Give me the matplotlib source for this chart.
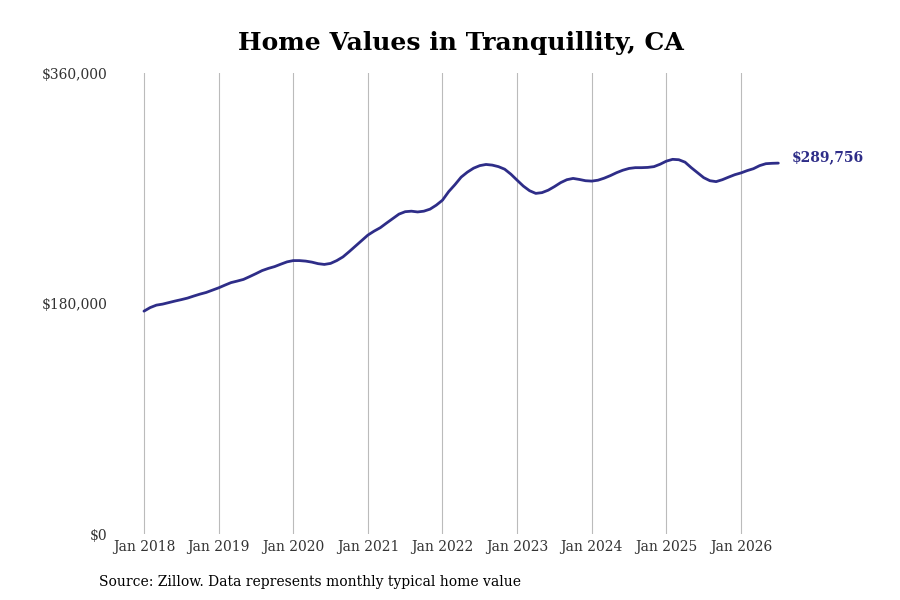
import matplotlib
matplotlib.use("Agg")
import matplotlib.pyplot as plt
import matplotlib.ticker as ticker
import numpy as np

# monthly typical home value, Jan 2018 .. Jul 2026
start_year = 2018
values = [
    174100, 176900, 178800, 179600, 180800, 182000, 183100, 184300, 185900, 187400, 188700, 190500,
    192300, 194400, 196400, 197600, 198900, 201100, 203400, 205800, 207500, 208900, 210800, 212600,
    213600, 213600, 213200, 212400, 211200, 210600, 211400, 213600, 216500, 220600, 224900, 229200,
    233500, 236600, 239300, 242900, 246400, 249900, 251800, 252200, 251600, 252200, 253800, 256900,
    260800, 267500, 272900, 278800, 282700, 285800, 287800, 288700, 288200, 287000, 285000, 281100,
    276400, 271800, 268200, 266100, 266700, 268600, 271400, 274500, 276800, 277800, 277000, 276000,
    275700, 276400, 278000, 280000, 282300, 284200, 285600, 286200, 286200, 286400, 287000, 288900,
    291300, 292700, 292400, 290500, 286200, 282300, 278400, 276000, 275300, 276800, 278800, 280700,
    282100, 283900, 285400, 287800, 289300, 289600, 289756,
]
tick_years = list(range(2018, 2027))
y_ticks = [0, 180000, 360000]

title = "Home Values in Tranquillity, CA"
source = "Source: Zillow. Data represents monthly typical home value"
line_color = "#2e2d88"

plt.rcParams["font.family"] = ["DejaVu Serif"]

fig = plt.figure(figsize=(9, 6), dpi=100)
ax = fig.add_axes([0.125, 0.11, 0.84, 0.768])

months = np.arange(len(values))
ax.plot(months, values, color=line_color, linewidth=2.0, solid_capstyle="round")

ax.set_ylim(0, 360000)
ax.set_xlim(-5.06, 116.5)
ax.set_yticks(y_ticks)
ax.yaxis.set_major_formatter(ticker.FuncFormatter(lambda v, p: f"${v:,.0f}"))
ax.set_xticks([(y - start_year) * 12 for y in tick_years])
ax.set_xticklabels([f"Jan {y}" for y in tick_years])
ax.tick_params(axis="both", length=0, labelsize=10, labelcolor="#333333")
ax.tick_params(axis="x", pad=4)
ax.tick_params(axis="y", pad=3.5)

ax.grid(axis="x", color="#bbbbbb", linewidth=0.8)
ax.grid(axis="y", visible=False)
for s in ax.spines.values():
    s.set_visible(False)

ax.annotate(f"${values[-1]:,}", xy=(months[-1], values[-1]), xytext=(10, 4),
            textcoords="offset points", color=line_color, fontsize=10,
            fontweight="bold", va="center", ha="left")

fig.text(0.512, 0.928, title, ha="center", va="center", fontsize=18, fontweight="bold")
fig.text(0.11, 0.03, source, ha="left", va="center", fontsize=10)

fig.savefig("out.png", dpi=100)
